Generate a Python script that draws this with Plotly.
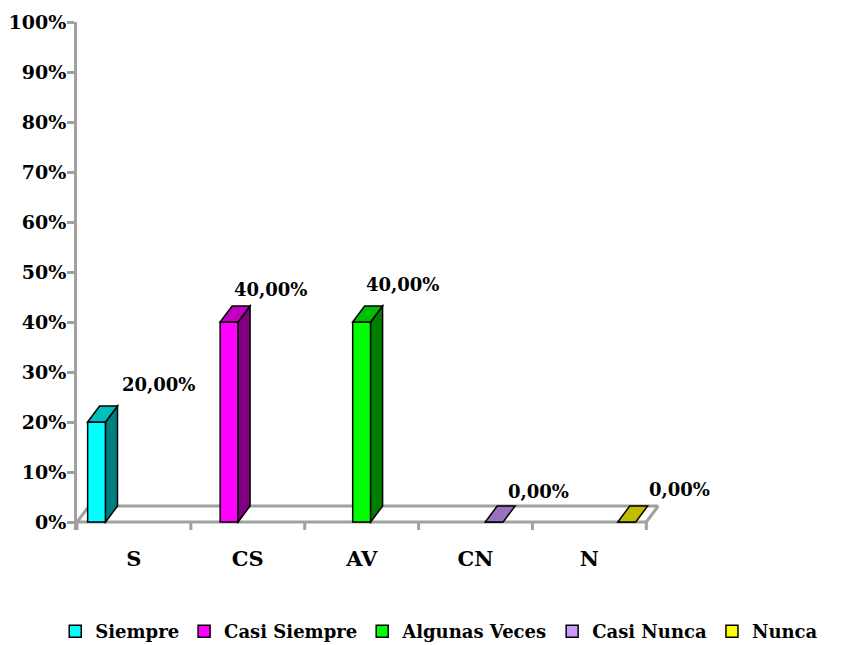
import plotly.graph_objects as go

# ---- data ----
categories = ["S", "CS", "AV", "CN", "N"]
series_names = ["Siempre", "Casi Siempre", "Algunas Veces", "Casi Nunca", "Nunca"]
values = [20.0, 40.0, 40.0, 0.0, 0.0]
y_tick_values = [0, 10, 20, 30, 40, 50, 60, 70, 80, 90, 100]
y_tick_labels = [f"{v}%" for v in y_tick_values]

# ---- styles ----
front_colors = ["#00FFFF", "#FF00FF", "#00FF00", "#CC99FF", "#FFFF00"]


def shade(hexcol, f):
    h = hexcol.lstrip("#")
    r, g, b = (int(h[i:i + 2], 16) for i in (0, 2, 4))
    return "#{:02X}{:02X}{:02X}".format(int(r * f), int(g * f), int(b * f))


top_colors = [shade(c, 0.75) for c in front_colors]
side_colors = [shade(c, 0.5) for c in front_colors]
label_shift = [(62, 38), (41, 33), (41, 38), (44, 31), (53, 33)]

FONT = "DejaVu Serif"
GRAY = "#A0A0A0"
n = len(series_names)
bargap, groupgap = 0.18, 0.04
slot = (1 - bargap) / n
bar_w = slot * (1 - groupgap)
depth_x = 0.105   # depth in category units
depth_y = 3.2     # depth in value units

fig = go.Figure()
shapes = []

# floor (behind bars)
x_lo, x_hi = -0.5, len(categories) - 0.5
floor = [((x_lo, 0), (x_hi, 0)),
         ((x_lo + depth_x, depth_y), (x_hi + depth_x, depth_y)),
         ((x_lo, 0), (x_lo + depth_x, depth_y)),
         ((x_hi, 0), (x_hi + depth_x, depth_y))]
for (a, b) in floor:
    shapes.append(dict(type="line", xref="x", yref="y", x0=a[0], y0=a[1], x1=b[0], y1=b[1],
                       line=dict(color=GRAY, width=3), layer="below"))
# category boundary ticks
for k in range(len(categories) + 1):
    xb = k - 0.5
    shapes.append(dict(type="line", xref="x", yref="y", x0=xb, y0=0, x1=xb, y1=-1.6,
                       line=dict(color=GRAY, width=3), layer="below"))

annotations = []
for j, name in enumerate(series_names):
    off = -(1 - bargap) / 2 + j * slot + slot * groupgap / 2
    yv = [None] * len(categories)
    yv[j] = values[j]
    fig.add_trace(go.Bar(
        x=list(range(len(categories))), y=yv, name=name,
        width=bar_w, offset=off,
        marker=dict(color=front_colors[j], line=dict(color="black", width=1.5)),
        hoverinfo="skip",
    ))
    v = values[j]
    x0 = j + off
    x1 = x0 + bar_w
    # side face
    if v > 0:
        shapes.append(dict(
            type="path", xref="x", yref="y",
            path=f"M{x1},{0} L{x1 + depth_x},{depth_y} L{x1 + depth_x},{v + depth_y} L{x1},{v} Z",
            fillcolor=side_colors[j], line=dict(color="black", width=1.5), layer="above"))
    # top face
    shapes.append(dict(
        type="path", xref="x", yref="y",
        path=f"M{x0},{v} L{x0 + depth_x},{v + depth_y} L{x1 + depth_x},{v + depth_y} L{x1},{v} Z",
        fillcolor=top_colors[j], line=dict(color="black", width=1.5), layer="above"))
    label = f"{v:.2f}".replace(".", ",") + "%"
    annotations.append(dict(
        x=(x0 + x1) / 2, y=v, xref="x", yref="y", text=label, showarrow=False,
        xshift=label_shift[j][0], yshift=label_shift[j][1],
        font=dict(family=FONT, size=18, color="black", weight="bold")))

# page body has an 8px default margin, so the figure is 8px smaller and shifted
fig.update_layout(
    width=839, height=637,
    margin=dict(l=69, r=187, t=14, b=115, autoexpand=False),
    paper_bgcolor="white", plot_bgcolor="white",
    showlegend=True,
    shapes=shapes, annotations=annotations,
    font=dict(family=FONT, color="black", weight="bold"),
    legend=dict(orientation="h", x=1.28, xanchor="right",
                y=-0.2, yanchor="middle", traceorder="normal",
                font=dict(family=FONT, size=18, color="black", weight="bold"),
                itemclick=False, itemdoubleclick=False),
    xaxis=dict(range=[-0.5, 4.62], tickvals=list(range(len(categories))), ticktext=categories,
               showline=False, showgrid=False, zeroline=False, ticks="", automargin=False,
               tickfont=dict(family=FONT, size=21, color="black", weight="bold"),
               ticklabelstandoff=14),
    yaxis=dict(range=[-1.6, 100], tickvals=y_tick_values, ticktext=y_tick_labels,
               showline=True, linecolor=GRAY, linewidth=3, automargin=False,
               ticks="outside", ticklen=7, tickwidth=3, tickcolor=GRAY,
               showgrid=False, zeroline=False,
               tickfont=dict(family=FONT, size=19, color="black", weight="bold"),
               ticklabelstandoff=-3),
)

fig.write_html("out.html")
